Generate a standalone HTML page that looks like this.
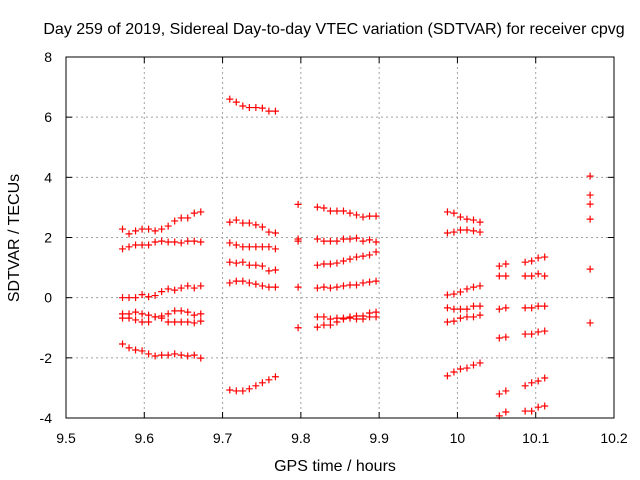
<!DOCTYPE html>
<html><head><meta charset="utf-8"><style>
body{margin:0;background:#fff;}
svg{display:block;font-family:"Liberation Sans",sans-serif;}
</style></head><body>
<svg id="chart" width="640" height="480" viewBox="0 0 640 480" xmlns="http://www.w3.org/2000/svg">
<rect width="640" height="480" fill="#fff"/>
<text x="334" y="34" font-size="16" text-anchor="middle">Day 259 of 2019, Sidereal Day-to-day VTEC variation (SDTVAR) for receiver cpvg</text>
<text x="335" y="471" font-size="16" text-anchor="middle">GPS time / hours</text>
<text transform="translate(19,238) rotate(-90)" font-size="16" text-anchor="middle">SDTVAR / TECUs</text>
<g id="grid"></g><g id="ticks"></g><g id="marks"></g>
<rect x="66" y="57" width="548" height="361" fill="none" stroke="#000" stroke-width="1"/>
</svg>
<script>
const xTicks=[9.5,9.6,9.7,9.8,9.9,10,10.1,10.2];
const xTickLabels=["9.5","9.6","9.7","9.8","9.9","10","10.1","10.2"];
const yTicks=[-4,-2,0,2,4,6,8];
const yTickLabels=["-4","-2","0","2","4","6","8"];
const groupStarts=[9.5722,9.7092,9.7965,9.8211,9.9872,10.0535,10.0865,10.1695];
const timeStep=0.00833;
const g1=[[2.28,2.12,2.22,2.28,2.28,2.22,2.28,2.38,2.55,2.65,2.65,2.81,2.85],[1.62,1.69,1.75,1.75,1.75,1.85,1.88,1.85,1.85,1.82,1.88,1.88,1.85],[0,0,0,0.1,0.03,0.07,0.2,0.29,0.25,0.32,0.39,0.32,0.39],[-0.54,-0.54,-0.48,-0.54,-0.58,-0.64,-0.61,-0.54,-0.44,-0.44,-0.48,-0.58,-0.54],[-0.68,-0.68,-0.74,-0.81,-0.81,-0.64,-0.68,-0.81,-0.81,-0.81,-0.81,-0.84,-0.78],[-1.54,-1.67,-1.74,-1.77,-1.87,-1.94,-1.91,-1.91,-1.87,-1.91,-1.94,-1.91,-2.01]];
const g2=[[6.6,6.5,6.37,6.32,6.32,6.3,6.2,6.2],[2.51,2.58,2.48,2.48,2.42,2.35,2.18,2.15],[1.82,1.75,1.69,1.69,1.69,1.69,1.69,1.62],[1.18,1.15,1.18,1.08,1.08,1.05,0.89,0.92],[0.49,0.55,0.55,0.49,0.45,0.39,0.35,0.35],[-3.07,-3.1,-3.1,-3.03,-2.93,-2.83,-2.73,-2.63]];
const g3=[[3.1],[1.95],[1.88],[0.35],[-1.0]];
const g4=[[3.01,2.98,2.88,2.88,2.88,2.81,2.75,2.68,2.71,2.71],[1.95,1.88,1.88,1.88,1.95,1.95,1.98,1.88,1.92,1.85],[1.08,1.12,1.12,1.15,1.22,1.28,1.35,1.38,1.42,1.52],[0.32,0.35,0.32,0.35,0.39,0.42,0.42,0.49,0.52,0.55],[-0.64,-0.64,-0.71,-0.68,-0.68,-0.64,-0.61,-0.61,-0.51,-0.48],[-0.98,-0.91,-0.91,-0.81,-0.71,-0.68,-0.71,-0.71,-0.64,-0.64]];
const g5=[[2.85,2.81,2.68,2.61,2.58,2.51],[2.15,2.18,2.25,2.25,2.22,2.18],[0.09,0.12,0.19,0.29,0.35,0.39],[-0.34,-0.38,-0.38,-0.38,-0.28,-0.28],[-0.81,-0.78,-0.68,-0.64,-0.64,-0.58],[-2.6,-2.47,-2.37,-2.34,-2.24,-2.17]];
const g6=[[1.05,1.12],[0.72,0.72],[-0.38,-0.34],[-1.34,-1.31],[-3.2,-3.1],[-3.93,-3.8]];
const g7=[[1.18,1.22,1.32,1.35],[0.72,0.72,0.79,0.72],[-0.34,-0.34,-0.28,-0.28],[-1.21,-1.21,-1.14,-1.11],[-2.93,-2.83,-2.77,-2.67],[-3.77,-3.77,-3.64,-3.6]];
const g8=[[4.04],[3.41],[3.11],[2.61],[0.95],[-0.84]];
const groups=[g1,g2,g3,g4,g5,g6,g7,g8];

const NS="http://www.w3.org/2000/svg";
const X0=66,X1=614,Y0=418,Y1=57,xmin=9.5,xmax=10.2,ymin=-4,ymax=8;
function xs(t){return X0+(t-xmin)/(xmax-xmin)*(X1-X0);}
function ys(v){return Y0-(v-ymin)/(ymax-ymin)*(Y0-Y1);}
function mk(tag,attrs,parent){const e=document.createElementNS(NS,tag);for(const k in attrs)e.setAttribute(k,attrs[k]);parent.appendChild(e);return e;}
const grid=document.getElementById('grid'),ticks=document.getElementById('ticks'),marks=document.getElementById('marks');
xTicks.forEach((t,i)=>{const x=xs(t);
 if(i>0&&i<xTicks.length-1){const l=mk('line',{x1:x,x2:x,y1:Y1,y2:Y0,stroke:'#a0a0a0','stroke-dasharray':'2,3'},grid);
 
 }
 mk('line',{x1:x,x2:x,y1:Y0,y2:Y0-6,stroke:'#000'},ticks);
 mk('line',{x1:x,x2:x,y1:Y1,y2:Y1+6,stroke:'#000'},ticks);
 const tx=mk('text',{x:x,y:Y0+25,'font-size':14,'text-anchor':'middle'},ticks);tx.textContent=xTickLabels[i];
 
 });
yTicks.forEach((v,i)=>{const y=ys(v);
 if(i>0&&i<yTicks.length-1){const l=mk('line',{x1:X0,x2:X1,y1:y,y2:y,stroke:'#a0a0a0','stroke-dasharray':'2,3'},grid);
 
 }
 mk('line',{x1:X0,x2:X0+6,y1:y,y2:y,stroke:'#000'},ticks);
 mk('line',{x1:X1,x2:X1-6,y1:y,y2:y,stroke:'#000'},ticks);
 const tx=mk('text',{x:X0-14,y:y+5,'font-size':14,'text-anchor':'end'},ticks);tx.textContent=yTickLabels[i];
 
 });
groups.forEach((grp,gi)=>{grp.forEach(series=>{series.forEach((v,i)=>{
 const x=xs(groupStarts[gi]+i*timeStep),y=ys(v);
 const p=mk('path',{d:`M${x-3.5},${y}h7M${x},${y-3.5}v7`,stroke:'#ff0000','stroke-width':1.2,fill:'none'},marks);
 
 
});});});
</script>
</body></html>
